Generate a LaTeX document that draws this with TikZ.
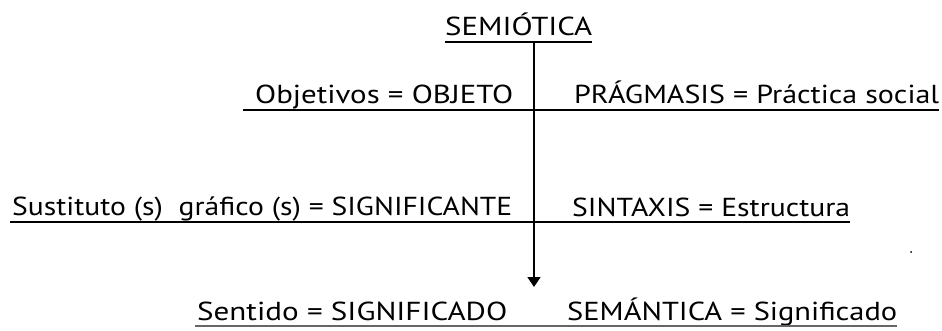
\documentclass[tikz,border=0pt]{standalone}
\usepackage{fontspec}
\setmainfont{PT Sans}
\usetikzlibrary{arrows.meta}
\newcommand\fitw[2]{\resizebox{#1pt}{\height}{#2}}
\begin{document}
\begin{tikzpicture}[x=1pt,y=-1pt,
  lbl/.style={anchor=base west,inner sep=0pt,font=\fontsize{26}{30}\selectfont},
  rule/.style={line width=1.7pt},
  axis/.style={line width=1.7pt,-{Triangle[width=13pt,length=10pt]}}]
\useasboundingbox[fill=white] (0,0) rectangle (942,331);
\node[lbl] (sem) at (445,36) {\fitw{147}{SEMIÓTICA}};
\node[lbl] (obj) at (255,104) {\fitw{258}{Objetivos = OBJETO}};
\node[lbl] (pra) at (574,104) {\fitw{365}{PRÁGMASIS = Práctica social}};
\node[lbl] (sus) at (12,216) {\fitw{500}{Sustituto (s)\ \ gráfico (s) = SIGNIFICANTE}};
\node[lbl] (sin) at (572,216) {\fitw{278}{SINTAXIS = Estructura}};
\node[lbl] (sen) at (197,320) {\fitw{310}{Sentido = SIGNIFICADO}};
\node[lbl] (sma) at (567,320) {\fitw{330}{SEMÁNTICA = Significado}};
% underlines
\coordinate (u0a) at (445,42); \coordinate (u0b) at (592,42);
\coordinate (u1a) at (243,110); \coordinate (u1b) at (939,110);
\coordinate (u2a) at (10,222); \coordinate (u2b) at (850,222);
\coordinate (u3a) at (195,326); \coordinate (u3b) at (897,326);
\draw[rule] (u0a) -- (u0b);
\draw[rule] (u1a) -- (u1b);
\draw[rule] (u2a) -- (u2b);
\draw[line width=1.1pt,black!60] (u3a) -- (u3b);
% axis
\coordinate (top) at (534,42);
\coordinate (tip) at (534,287);
\draw[axis] (top) -- (tip);
\fill (911,252) circle (1pt);
\end{tikzpicture}
\end{document}
